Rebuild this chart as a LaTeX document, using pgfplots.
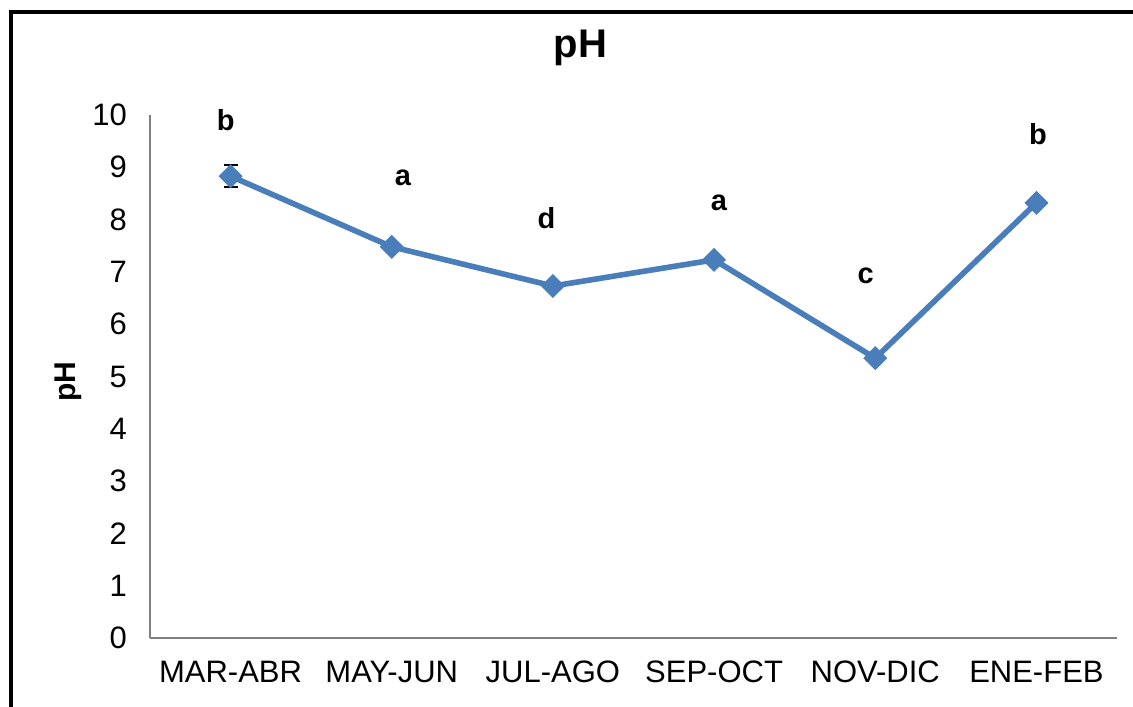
\documentclass[border=0pt]{standalone}
\usepackage{pgfplots}
\pgfplotsset{compat=1.18}
\usepackage{fontspec}
\setmainfont{Liberation Sans}
\definecolor{serie}{RGB}{74,126,187}
\begin{document}
\begin{tikzpicture}
\useasboundingbox (-75pt,-34pt) rectangle (491.5pt,319pt);
\draw[line width=2pt] (-69.5pt,-40pt) -- (-69.5pt,313pt) -- (500pt,313pt);
\begin{axis}[
    at={(0,0)}, anchor=south west,
    scale only axis, width=483.5pt, height=261.5pt,
    xmin=-0.5, xmax=5.5, ymin=0, ymax=10,
    axis lines*=left,
    axis line style={draw=gray, line width=0.75pt},
    major tick length=0pt,
    xtick={0,...,5},
    xticklabels={MAR-ABR, MAY-JUN, JUL-AGO, SEP-OCT, NOV-DIC, ENE-FEB},
    ytick={0,...,10},
    tick label style={font=\fontsize{15.5}{18}\selectfont},
    yticklabel style={xshift=-8pt},
    xticklabel style={yshift=-8pt},
    /pgf/number format/assume math mode=true,
    title={pH},
    title style={font=\fontsize{20}{24}\selectfont\bfseries, at={(axis description cs:0.445,1.105)}, anchor=center},
    ylabel={pH},
    ylabel style={font=\fontsize{15}{18}\selectfont\bfseries, at={(axis description cs:-0.085,0.49)}, anchor=center},
    clip=false,
]
\addplot[serie, line width=2.8pt, mark=square*, mark size=4pt,
    mark options={rotate=45, solid, fill=serie, draw=serie, line width=0.5pt},
    error bars/.cd, y dir=both, y explicit,
    error bar style={black, line width=0.8pt},
    error mark options={black, line width=0.8pt, rotate=90, mark size=3.5pt}]
  coordinates {
  (0,8.83) +- (0,0.21)
  (1,7.48) +- (0,0.08)
  (2,6.73) +- (0,0.04)
  (3,7.23) +- (0,0.05)
  (4,5.35) +- (0,0.04)
  (5,8.32) +- (0,0.08)
};
\addplot[draw=none, mark=none,
    nodes near coords, point meta=explicit symbolic,
    nodes near coords style={anchor=center, font=\fontsize{14.5}{17}\selectfont\bfseries, black}]
  coordinates {
  (-0.03,9.90) [b]
  (1.07,8.80) [a]
  (1.96,8.03) [d]
  (3.03,8.32) [a]
  (3.94,6.92) [c]
  (5.01,9.64) [b]
};
\end{axis}
\end{tikzpicture}
\end{document}
